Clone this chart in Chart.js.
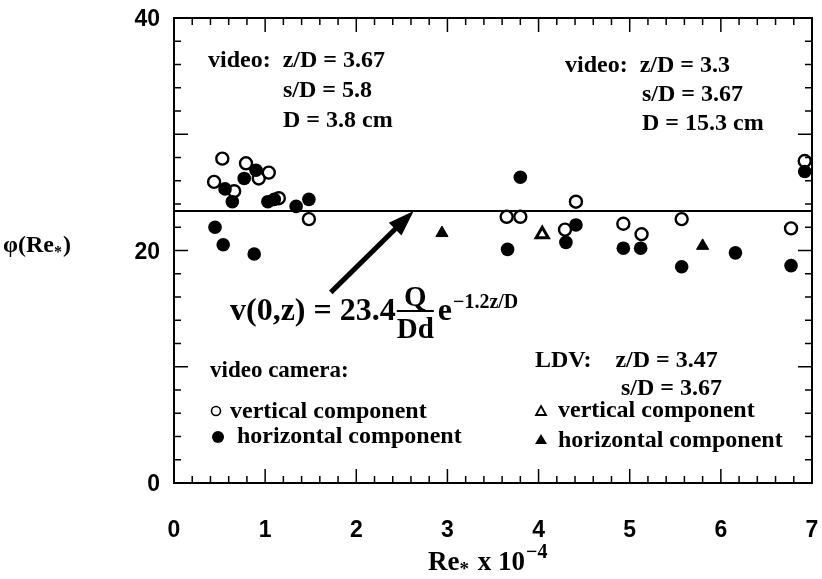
<!DOCTYPE html>
<html>
<head>
<meta charset="utf-8">
<script src="https://cdn.jsdelivr.net/npm/chart.js@4.4.0/dist/chart.umd.min.js"></script>
<style>
  body { margin: 0; background: #fff; }
  #wrap { width: 822px; height: 579px; }
</style>
</head>
<body>
<div id="wrap"><canvas id="grafico-phi" width="822" height="579"></canvas></div>
<script>
// Vídeo - componente vertical (círculos abertos)
var videoVertX = [0.44, 0.53, 0.66, 0.79, 0.93, 1.04, 1.15, 1.48, 3.65, 3.80, 4.29, 4.41, 4.93, 5.13, 5.57, 6.77, 6.92];
var videoVertY = [25.9, 27.9, 25.1, 27.5, 26.2, 26.7, 24.5, 22.7, 22.9, 22.9, 21.8, 24.2, 22.3, 21.4, 22.7, 21.9, 27.7];

// Vídeo - componente horizontal (círculos cheios)
var videoHorX = [0.45, 0.54, 0.56, 0.64, 0.77, 0.88, 0.90, 1.03, 1.10, 1.34, 1.48, 3.66, 3.80, 4.30, 4.41, 4.93, 5.12, 5.57, 6.16, 6.77, 6.92];
var videoHorY = [22.0, 20.5, 25.3, 24.2, 26.2, 19.7, 26.9, 24.2, 24.4, 23.8, 24.4, 20.1, 26.3, 20.7, 22.2, 20.2, 20.2, 18.6, 19.8, 18.7, 26.8];

// LDV - componentes vertical e horizontal (triângulos)
var ldvVertX = [4.04];
var ldvVertY = [21.4];
var ldvHorX = [2.94, 5.80];
var ldvHorY = [21.5, 20.4];

// Reta do ajuste v(0,z) = 23.4 ...
var valorAjuste = 23.4;
var ajusteX = [0, 7];

// Rótulos dos eixos
var xTicks = [0, 1, 2, 3, 4, 5, 6, 7];
var yTicks = [0, 20, 40];

function pontos(xs, ys) {
  return xs.map(function (x, i) { return { x: x, y: ys[i] }; });
}

var serif = '"Liberation Serif", "DejaVu Serif", serif';

// texto com sub/sobrescritos: partes [texto, tamanho, deslocamento vertical]
function textoRico(c, x, y, partes) {
  partes.forEach(function (p) {
    c.font = 'bold ' + p[1] + 'px ' + serif;
    c.fillText(p[0], x, y + (p[2] || 0));
    x += c.measureText(p[0]).width;
  });
  return x;
}

function linha(c, x1, y1, x2, y2) {
  c.beginPath(); c.moveTo(x1, y1); c.lineTo(x2, y2); c.stroke();
}

// Moldura, ticks internos, seta e textos da figura
var anotacoes = {
  id: 'anotacoes',
  afterDraw: function (chart) {
    var c = chart.ctx, a = chart.chartArea;
    var sx = chart.scales.x, sy = chart.scales.y;
    c.save();
    c.strokeStyle = '#000';
    c.fillStyle = '#000';

    // ticks para dentro nos quatro lados
    c.lineWidth = 1.5;
    for (var i = 0; i <= 35; i++) {
      var px = sx.getPixelForValue(i * 0.2);
      var len = (i % 5 === 0) ? 14 : 7;
      linha(c, px, a.bottom, px, a.bottom - len);
      linha(c, px, a.top, px, a.top + len);
    }
    for (var j = 0; j <= 20; j++) {
      var py = sy.getPixelForValue(j * 2);
      var len2 = (j % 5 === 0) ? 14 : 7;
      linha(c, a.left, py, a.left + len2, py);
      linha(c, a.right, py, a.right - len2, py);
    }
    c.lineWidth = 2;
    c.strokeRect(a.left, a.top, a.right - a.left, a.bottom - a.top);

    // seta apontando para a reta
    var x0 = sx.getPixelForValue(1.72), y0 = sy.getPixelForValue(16.4);
    var x1 = sx.getPixelForValue(2.63), y1 = sy.getPixelForValue(valorAjuste);
    var ang = Math.atan2(y1 - y0, x1 - x0);
    c.lineWidth = 5;
    linha(c, x0, y0, x1 - 18 * Math.cos(ang), y1 - 18 * Math.sin(ang));
    c.beginPath();
    c.moveTo(x1, y1);
    c.lineTo(x1 - 26 * Math.cos(ang) + 9 * Math.sin(ang), y1 - 26 * Math.sin(ang) - 9 * Math.cos(ang));
    c.lineTo(x1 - 26 * Math.cos(ang) - 9 * Math.sin(ang), y1 - 26 * Math.sin(ang) + 9 * Math.cos(ang));
    c.closePath();
    c.fill();

    c.textBaseline = 'alphabetic';
    c.textAlign = 'left';
    var f = 24;

    // blocos de parâmetros
    textoRico(c, 208, 67, [['video:  z/D = 3.67', f]]);
    textoRico(c, 283, 97, [['s/D = 5.8', f]]);
    textoRico(c, 283, 127, [['D = 3.8 cm', f]]);
    textoRico(c, 565, 72, [['video:  z/D = 3.3', f]]);
    textoRico(c, 642, 101, [['s/D = 3.67', f]]);
    textoRico(c, 642, 130, [['D = 15.3 cm', f]]);

    // fórmula
    var fx = textoRico(c, 230, 320, [['v(0,z) = 23.4', 32]]);
    c.font = 'bold 29px ' + serif;
    var wQ = c.measureText('Q').width, wDd = c.measureText('Dd').width;
    var larg = Math.max(wQ, wDd);
    c.fillText('Q', fx + 1 + (larg - wQ) / 2, 306);
    c.fillText('Dd', fx + 1 + (larg - wDd) / 2, 338);
    c.lineWidth = 2;
    linha(c, fx + 1, 311, fx + 1 + larg, 311);
    var ex = textoRico(c, fx + larg + 5, 320, [['e', 32]]);
    textoRico(c, ex + 1, 308, [['\u22121.2z/D', 20]]);

    // legenda da câmera de vídeo
    textoRico(c, 210, 377, [['video camera:', 23]]);
    c.lineWidth = 1.6;
    c.beginPath(); c.arc(216, 411, 4.5, 0, 2 * Math.PI); c.stroke();
    textoRico(c, 230, 418, [['vertical component', f]]);
    c.beginPath(); c.arc(218, 437, 6, 0, 2 * Math.PI); c.fill();
    textoRico(c, 237, 443, [['horizontal component', f]]);

    // legenda do LDV
    textoRico(c, 535, 367, [['LDV:    z/D = 3.47', f]]);
    textoRico(c, 621, 395, [['s/D = 3.67', f]]);
    c.lineWidth = 1.8;
    c.beginPath(); c.moveTo(541, 406); c.lineTo(546, 415); c.lineTo(536, 415); c.closePath(); c.stroke();
    textoRico(c, 558, 417, [['vertical component', f]]);
    c.beginPath(); c.moveTo(541, 434); c.lineTo(547, 444); c.lineTo(535, 444); c.closePath(); c.fill();
    textoRico(c, 558, 447, [['horizontal component', f]]);

    // títulos dos eixos
    var tx = textoRico(c, 428, 570, [['Re', 27]]);
    tx = textoRico(c, tx, 570, [['*', 19, 5]]);
    tx = textoRico(c, tx + 2, 570, [[' x 10', 27]]);
    textoRico(c, tx + 1, 570, [['\u22124', 20, -12]]);

    var ty = textoRico(c, 3, 252, [['\u03c6(Re', f]]);
    ty = textoRico(c, ty, 252, [['*', 16, 5]]);
    textoRico(c, ty + 1, 252, [[')', f]]);

    c.restore();
  }
};

var ctx = document.getElementById('grafico-phi').getContext('2d');

var graficoPhi = new Chart(ctx, {
  type: 'scatter',
  data: {
    datasets: [
      {
        label: 'ajuste',
        data: pontos(ajusteX, [valorAjuste, valorAjuste]),
        showLine: true,
        borderColor: '#000',
        borderWidth: 2,
        pointRadius: 0,
        order: 5,
      },
      {
        label: 'video vertical',
        data: pontos(videoVertX, videoVertY),
        pointStyle: 'circle',
        pointRadius: 6,
        borderWidth: 2.4,
        borderColor: '#000',
        backgroundColor: '#fff',
        order: 2,
      },
      {
        label: 'video horizontal',
        data: pontos(videoHorX, videoHorY),
        pointStyle: 'circle',
        pointRadius: 6.8,
        borderWidth: 0,
        backgroundColor: '#000',
        order: 1,
      },
      {
        label: 'LDV vertical',
        data: pontos(ldvVertX, ldvVertY),
        pointStyle: 'triangle',
        pointRadius: 7,
        borderWidth: 3,
        borderColor: '#000',
        backgroundColor: '#fff',
        order: 3,
      },
      {
        label: 'LDV horizontal',
        data: pontos(ldvHorX, ldvHorY),
        pointStyle: 'triangle',
        pointRadius: 7,
        borderWidth: 1,
        borderColor: '#000',
        backgroundColor: '#000',
        order: 3,
      },
    ],
  },
  options: {
    responsive: false,
    animation: false,
    layout: { padding: { top: 18, right: 10, left: 0, bottom: 0 } },
    plugins: {
      legend: { display: false },
      tooltip: { enabled: false },
    },
    scales: {
      x: {
        type: 'linear',
        min: 0,
        max: 7,
        afterBuildTicks: function (s) { s.ticks = xTicks.map(function (v) { return { value: v }; }); },
        afterFit: function (s) { s.height = 96; s.paddingLeft = 0; s.paddingRight = 0; },
        grid: { display: false, drawTicks: false },
        border: { display: false },
        ticks: {
          padding: 34,
          color: '#000',
          font: { family: '"Liberation Sans", Arial, sans-serif', size: 23, weight: 'bold' },
        },
      },
      y: {
        min: 0,
        max: 40,
        afterBuildTicks: function (s) { s.ticks = yTicks.map(function (v) { return { value: v }; }); },
        afterFit: function (s) { s.width = 174; s.paddingTop = 0; s.paddingBottom = 0; },
        grid: { display: false, drawTicks: false },
        border: { display: false },
        ticks: {
          padding: 14,
          labelOffset: 2,
          color: '#000',
          font: { family: '"Liberation Sans", Arial, sans-serif', size: 23, weight: 'bold' },
        },
      },
    },
  },
  plugins: [anotacoes],
});
</script>
</body>
</html>
